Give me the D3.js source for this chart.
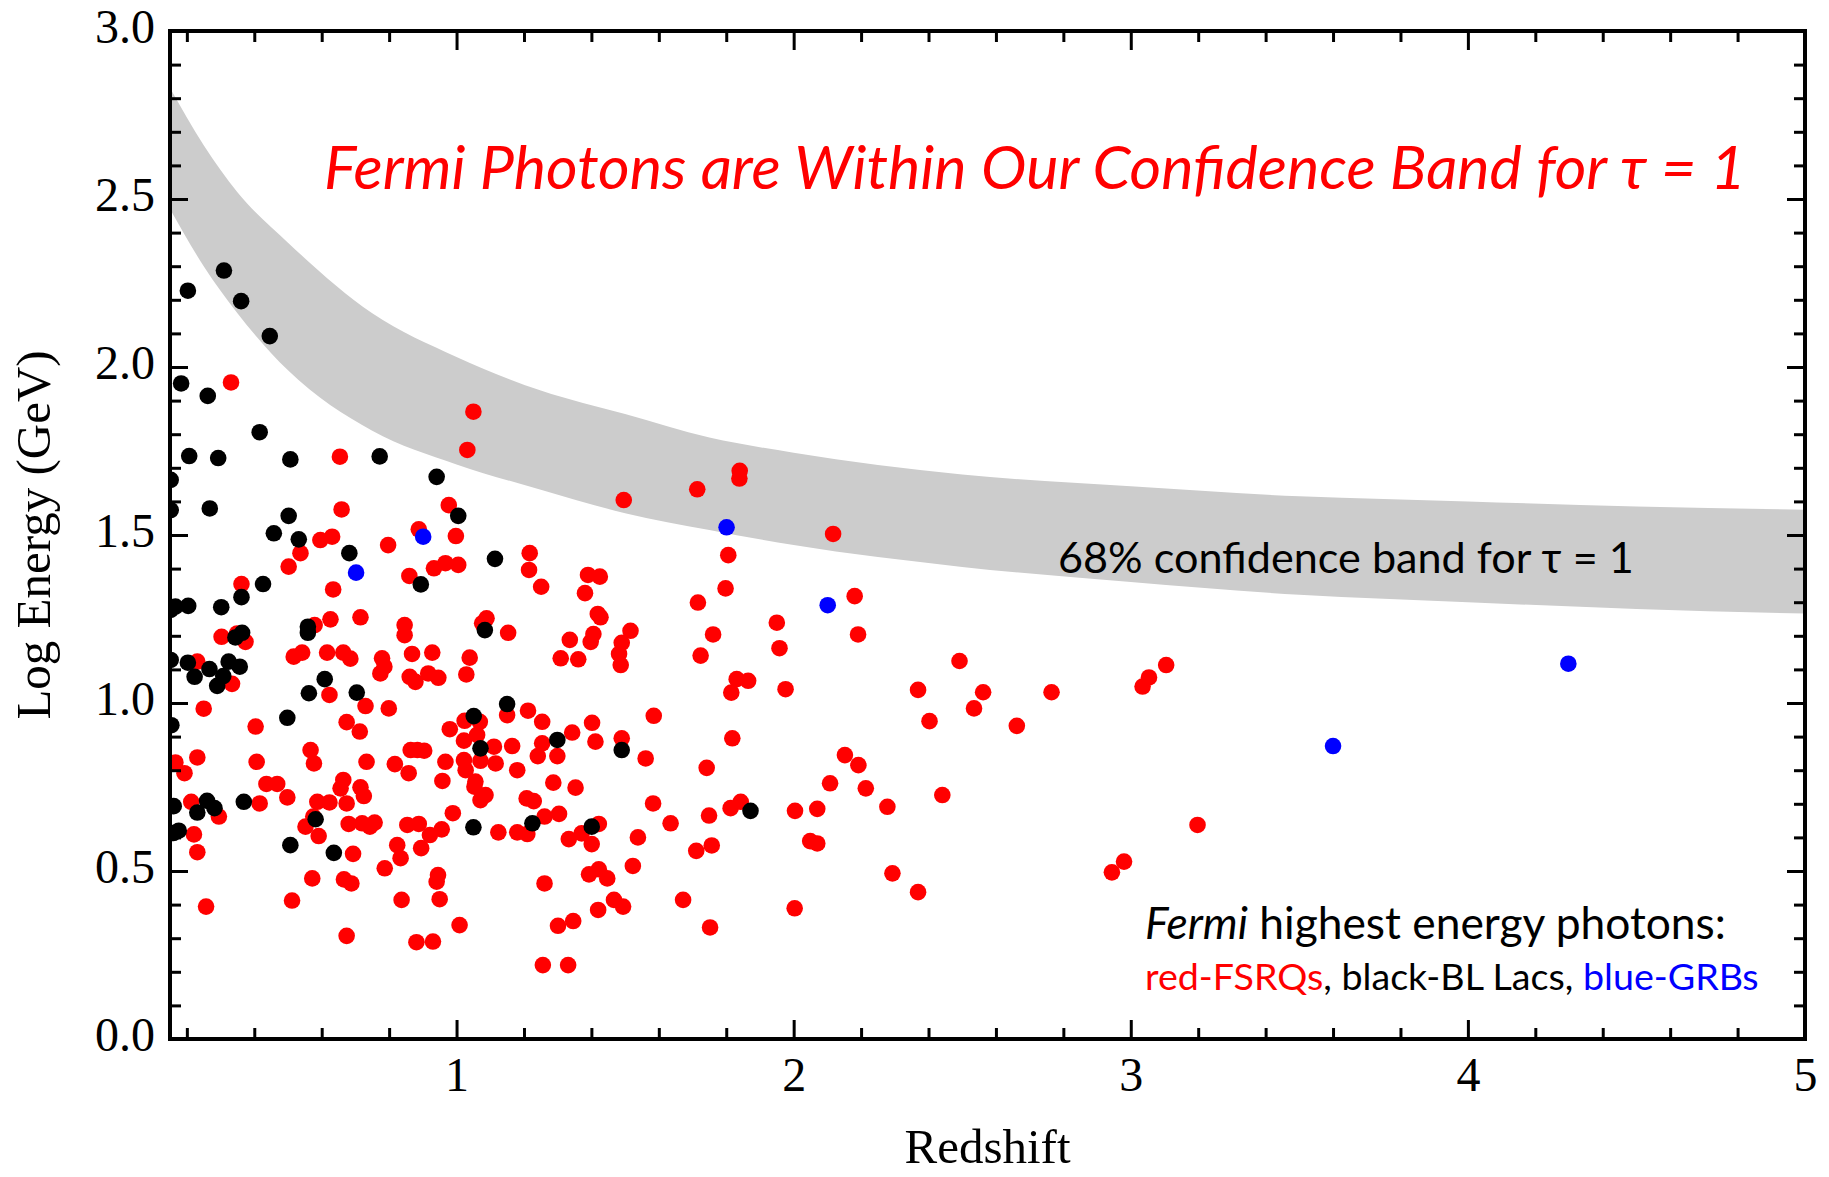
<!DOCTYPE html>
<meta charset="utf-8">
<script src="https://d3js.org/d3.v7.min.js"></script>
<style>
  body { margin: 0; background: #fff; }
</style>
<body>
<div id="my_dataviz"></div>
<script>

// ---- data: [redshift, log energy (GeV)] ----
var fsrq = [
  [1.05,1.867],[1.032,1.753],[0.331,1.954],[0.654,1.733],[0.659,1.576],[0.977,1.589],
  [1.496,1.604],[1.714,1.636],[1.84,1.691],[1.839,1.668],
  [0.596,1.485],[0.631,1.495],[0.537,1.446],[0.502,1.406],[0.888,1.517],[0.998,1.497],[0.797,1.47],
  [0.86,1.378],[0.933,1.401],[0.967,1.416],[1.005,1.411],[0.362,1.354],[0.634,1.338],[0.626,1.249],
  [0.715,1.255],[0.579,1.232],[0.846,1.232],[0.846,1.202],[1.089,1.252],[1.076,1.237],[1.153,1.209],
  [0.303,1.197],[0.349,1.207],[0.374,1.182],[0.517,1.138],[0.542,1.15],[0.616,1.15],[0.664,1.15],
  [0.685,1.132],[0.779,1.133],[0.786,1.108],[0.774,1.088],[0.868,1.146],[0.928,1.15],[1.039,1.135],
  [1.029,1.085],[0.861,1.078],[0.878,1.063],[0.916,1.088],[0.946,1.075],[0.231,1.123],[0.334,1.057],
  [0.623,1.024],[0.73,0.991],[0.799,0.984],[0.25,0.983],[0.404,0.93],[0.674,0.943],[0.713,0.915],
  [1.15,0.964],[1.024,0.947],[1.069,0.944],[0.98,0.922],[1.022,0.888],[1.061,0.905],[1.111,0.87],
  [1.165,0.872],[0.567,0.86],[0.577,0.82],[0.864,0.86],[0.884,0.86],[0.904,0.858],[0.231,0.838],
  [0.166,0.823],[0.193,0.791],[0.407,0.825],[0.733,0.825],[0.817,0.818],[0.967,0.825],[1.022,0.83],
  [1.071,0.828],[1.116,0.82],[1.18,0.80],[0.858,0.791],[1.027,0.8],
  [0.436,0.759],[0.468,0.759],[0.664,0.771],[0.656,0.746],[0.715,0.749],[0.725,0.723],[0.958,0.768],
  [1.056,0.766],[1.053,0.751],[1.086,0.726],[1.071,0.711],[0.213,0.706],[0.295,0.662],
  [0.416,0.701],[0.498,0.719],[0.587,0.706],[0.623,0.704],[0.674,0.701],[0.575,0.662],[0.552,0.632],
  [0.591,0.604],[0.68,0.64],[0.72,0.642],[0.743,0.632],[0.757,0.644],[0.854,0.637],[0.888,0.64],
  [0.921,0.607],[0.956,0.624],[0.989,0.672],[1.124,0.615],[1.18,0.615],[0.221,0.609],[0.231,0.556],
  [0.693,0.551],[0.824,0.577],[0.834,0.538],[0.895,0.568],[0.787,0.508],[0.572,0.478],[0.666,0.475],
  [0.688,0.463],[0.945,0.488],[0.941,0.468],[0.512,0.412],[0.837,0.414],[0.95,0.416],[0.257,0.394],
  [1.009,0.339],[0.674,0.307],[0.881,0.288],[0.93,0.29],
  [2.117,1.503],[1.217,1.446],[1.215,1.396],[1.251,1.346],[1.39,1.381],[1.425,1.376],[1.381,1.327],
  [1.806,1.44],[1.798,1.341],[1.716,1.299],[2.181,1.318],[2.191,1.204],[1.419,1.265],[1.427,1.255],
  [1.516,1.215],[1.406,1.205],[1.398,1.182],[1.336,1.188],[1.49,1.179],[1.482,1.146],[1.487,1.113],
  [1.309,1.133],[1.361,1.13],[1.761,1.204],[1.724,1.141],[1.95,1.239],[1.958,1.163],[1.831,1.071],
  [1.865,1.066],[1.815,1.031],[1.976,1.041],[1.585,0.962],[1.212,0.977],[1.254,0.944],[1.402,0.941],
  [1.343,0.912],[1.412,0.885],[1.49,0.895],[1.561,0.835],[1.254,0.88],[1.241,0.842],[1.299,0.842],
  [1.818,0.895],[1.742,0.807],[2.152,0.845],[2.192,0.815],
  [1.287,0.763],[1.353,0.748],[1.208,0.716],[1.229,0.708],[1.261,0.662],[1.304,0.67],[1.21,0.61],
  [1.422,0.64],[1.333,0.595],[1.371,0.612],[1.401,0.58],[1.583,0.701],[1.635,0.642],[1.538,0.6],
  [1.749,0.665],[1.813,0.687],[1.843,0.706],[2.004,0.679],[2.07,0.685],[2.108,0.761],[2.214,0.746],
  [2.049,0.589],[2.07,0.582],[1.711,0.56],[1.757,0.576],[1.393,0.49],[1.422,0.505],[1.447,0.478],
  [1.523,0.515],[1.261,0.463],[1.467,0.414],[1.494,0.394],[1.42,0.384],[1.672,0.414],[2.003,0.389],
  [1.301,0.337],[1.346,0.351],[1.752,0.332],[1.256,0.22],[1.331,0.22],
  [2.492,1.125],[2.369,1.039],[2.562,1.032],[2.535,0.984],[2.403,0.946],[2.662,0.932],[2.765,1.032],
  [3.105,1.113],[3.054,1.076],[3.035,1.049],[2.278,0.691],[2.441,0.726],[3.198,0.637],[2.98,0.528],
  [2.944,0.496],[2.293,0.493],[2.369,0.437]
];

var blLac = [
  [0.31,2.287],[0.203,2.227],[0.361,2.196],[0.446,2.092],[0.183,1.951],[0.262,1.914],[0.416,1.806],
  [0.207,1.735],[0.293,1.729],[0.507,1.725],[0.772,1.734],[0.941,1.673],[0.152,1.664],[0.152,1.574],
  [0.268,1.579],[0.502,1.557],[1.005,1.557],
  [0.458,1.505],[0.532,1.487],[0.682,1.446],[1.114,1.429],[0.894,1.353],[0.362,1.315],[0.426,1.354],
  [0.204,1.289],[0.166,1.287],[0.152,1.277],[0.302,1.285],[0.559,1.227],[0.559,1.209],[1.084,1.217],
  [0.364,1.209],[0.344,1.195],[0.203,1.12],[0.223,1.078],[0.267,1.101],[0.324,1.123],[0.357,1.108],
  [0.308,1.08],[0.29,1.051],[0.152,1.128],[0.609,1.071],[0.562,1.029],[0.704,1.031],[0.498,0.956],
  [0.154,0.934],[1.15,0.997],[1.051,0.961],[1.071,0.865],
  [0.161,0.693],[0.26,0.709],[0.231,0.674],[0.282,0.687],[0.369,0.706],[0.582,0.654],[1.05,0.63],
  [0.176,0.62],[0.16,0.613],[0.507,0.577],[0.636,0.554],
  [1.299,0.89],[1.49,0.86],[1.225,0.642],[1.401,0.632],[1.872,0.679]
];

var grb = [[0.702,1.388],[0.901,1.495],[1.801,1.523],[2.101,1.291],[3.6,0.872],[4.298,1.117]];

// 68% confidence band for tau = 1 (edges read at these redshifts)
var bandZ     = [0.15, 0.25, 0.35, 0.5, 0.75, 1.0, 1.25, 1.5, 1.75, 2.0, 2.5, 3.0, 3.5, 4.0, 4.5, 5.0];
var bandUpper = [2.83, 2.66, 2.52, 2.37, 2.16, 2.03, 1.93, 1.86, 1.79, 1.745, 1.68, 1.645, 1.615, 1.60, 1.585, 1.575];
var bandLower = [2.47, 2.30, 2.16, 1.99, 1.81, 1.71, 1.635, 1.565, 1.515, 1.47, 1.405, 1.36, 1.322, 1.30, 1.28, 1.266];

// ticks
var xTicks = [1, 2, 3, 4, 5];
var yTicks = [0, 0.5, 1, 1.5, 2, 2.5, 3];

// ---- layout ----
var W = 1829, H = 1177;
var margin = { top: 31, right: 24, bottom: 138, left: 170 };
var width = W - margin.left - margin.right,
    height = H - margin.top - margin.bottom;

var svg = d3.select("#my_dataviz")
  .append("svg")
  .attr("width", W)
  .attr("height", H);

var g = svg.append("g")
  .attr("transform", "translate(" + margin.left + "," + margin.top + ")");

var x = d3.scaleLinear().domain([0.15, 5]).range([0, width]);
var y = d3.scaleLinear().domain([0, 3]).range([height, 0]);

g.append("clipPath").attr("id", "plotclip")
  .append("rect").attr("width", width).attr("height", height);

var plot = g.append("g").attr("clip-path", "url(#plotclip)");

// band
var band = bandZ.map(function(z, i) { return { z: z, lo: bandLower[i], hi: bandUpper[i] }; });
plot.append("path")
  .datum(band)
  .attr("fill", "#cccccc")
  .attr("d", d3.area()
    .x(function(d) { return x(d.z); })
    .y0(function(d) { return y(d.lo); })
    .y1(function(d) { return y(d.hi); })
    .curve(d3.curveMonotoneX));

// dots: FSRQs first, then BL Lacs, then GRBs on top
function dots(data, color) {
  plot.append("g")
    .selectAll("circle")
    .data(data)
    .enter()
    .append("circle")
    .attr("cx", function(d) { return x(d[0]); })
    .attr("cy", function(d) { return y(d[1]); })
    .attr("r", 8.3)
    .attr("fill", color);
}
dots(fsrq, "#ff0000");
dots(blLac, "#000000");
dots(grb, "#0000ff");

// ---- axes (ticks point inward on all four sides) ----
var minorX = d3.range(0.2, 5.0, 0.2).filter(function(v) { return Math.abs(v - Math.round(v)) > 0.01; });
var minorY = d3.range(0.1, 3.0, 0.1).filter(function(v) { return Math.abs(v * 2 - Math.round(v * 2)) > 0.01; });

function styleAxis(sel, showText) {
  sel.select(".domain").remove();
  sel.selectAll("line").attr("stroke", "#000").attr("stroke-width", 3);
  sel.selectAll("text")
    .style("font-family", "'Liberation Serif', 'Times New Roman', serif")
    .style("font-size", "48px")
    .attr("fill", "#000");
  if (!showText) sel.selectAll("text").remove();
}

g.append("g").attr("transform", "translate(0," + height + ")")
  .call(d3.axisBottom(x).tickValues(xTicks).tickSize(-19).tickPadding(18).tickFormat(d3.format("d")))
  .call(styleAxis, true);
g.append("g").attr("transform", "translate(0," + height + ")")
  .call(d3.axisBottom(x).tickValues(minorX).tickSize(-11))
  .call(styleAxis, false);
g.append("g")
  .call(d3.axisTop(x).tickValues(xTicks).tickSize(-19))
  .call(styleAxis, false);
g.append("g")
  .call(d3.axisTop(x).tickValues(minorX).tickSize(-11))
  .call(styleAxis, false);

g.append("g")
  .call(d3.axisLeft(y).tickValues(yTicks).tickSize(-18).tickPadding(15).tickFormat(d3.format(".1f")))
  .call(styleAxis, true)
  .selectAll("text").attr("dy", "0.24em");
g.append("g")
  .call(d3.axisLeft(y).tickValues(minorY).tickSize(-11))
  .call(styleAxis, false);
g.append("g").attr("transform", "translate(" + width + ",0)")
  .call(d3.axisRight(y).tickValues(yTicks).tickSize(-18))
  .call(styleAxis, false);
g.append("g").attr("transform", "translate(" + width + ",0)")
  .call(d3.axisRight(y).tickValues(minorY).tickSize(-11))
  .call(styleAxis, false);

// frame
g.append("rect")
  .attr("width", width).attr("height", height)
  .attr("fill", "none").attr("stroke", "#000").attr("stroke-width", 4);

// axis titles
svg.append("text")
  .attr("x", margin.left + width / 2).attr("y", 1163)
  .attr("text-anchor", "middle")
  .style("font-family", "'Liberation Serif', serif").style("font-size", "49px")
  .text("Redshift");

svg.append("text")
  .attr("transform", "translate(50," + (margin.top + height / 2) + ") rotate(-90)")
  .attr("text-anchor", "middle")
  .style("font-family", "'Liberation Serif', serif").style("font-size", "49px")
  .text("Log Energy (GeV)");

// ---- annotations ----
var sans = "Lato, 'Open Sans', sans-serif";

// scale a text element's font so that it spans the given width
function fit(t, w) {
  var len = t.node().getComputedTextLength();
  var fs = parseFloat(t.style("font-size"));
  t.style("font-size", (fs * w / len) + "px");
}

var title = svg.append("text")
  .attr("x", 324).attr("y", 189)
  .style("font-family", sans).style("font-style", "italic").style("font-size", "50px")
  .attr("fill", "#ff0000")
  .text("Fermi Photons are Within Our Confidence Band for \u03c4 = 1");
fit(title, 1422);

var bandLabel = svg.append("text")
  .attr("x", 1058).attr("y", 573)
  .style("font-family", sans).style("font-size", "44px")
  .attr("fill", "#000")
  .text("68% confidence band for \u03c4 = 1");
fit(bandLabel, 576);

var leg1 = svg.append("text")
  .attr("x", 1145).attr("y", 939)
  .style("font-family", sans).style("font-size", "40px")
  .attr("fill", "#000");
leg1.append("tspan").style("font-style", "italic").text("Fermi");
leg1.append("tspan").text(" highest energy photons:");
fit(leg1, 581);

var leg2 = svg.append("text")
  .attr("x", 1145).attr("y", 990)
  .style("font-family", sans).style("font-size", "36px");
leg2.append("tspan").attr("fill", "#ff0000").text("red-FSRQs");
leg2.append("tspan").attr("fill", "#000").text(", black-BL Lacs, ");
leg2.append("tspan").attr("fill", "#0000ff").text("blue-GRBs");
fit(leg2, 614);

</script>
</body>
